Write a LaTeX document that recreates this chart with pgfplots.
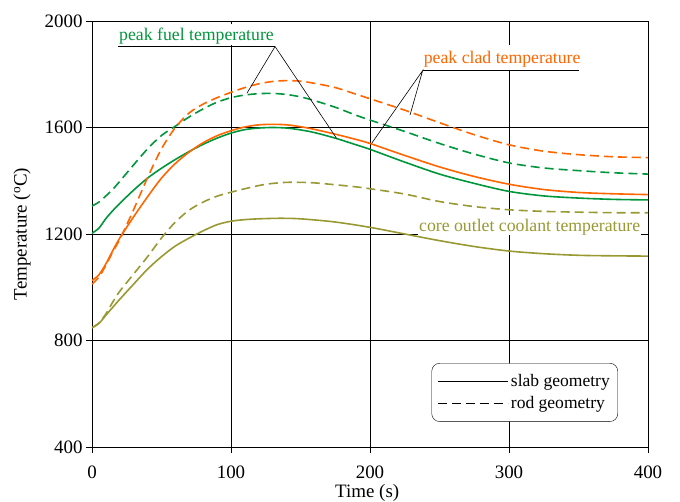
\documentclass[border=0pt]{standalone}
\usepackage{pgfplots}
\pgfplotsset{compat=1.18}
\usepackage{fontspec}
\setmainfont{Liberation Serif}
\definecolor{cgreen}{RGB}{0,150,60}
\definecolor{corange}{RGB}{255,102,0}
\definecolor{colive}{RGB}{153,153,51}
\begin{document}
\begin{tikzpicture}
\path[use as bounding box] (-92bp,-55bp) rectangle (588bp,447bp);
\begin{axis}[
  at={(0,0)}, anchor=south west,
  scale only axis, width=556bp, height=426bp,
  xmin=0, xmax=400, ymin=400, ymax=2000,
  xtick={0,100,200,300,400}, ytick={400,800,1200,1600,2000},
  /pgf/number format/assume math mode=true,
  /pgf/number format/1000 sep={},
  tick label style={font=\fontsize{19}{22}\selectfont},
  xticklabel style={yshift=-9bp},
  label style={font=\fontsize{19}{22}\selectfont},
  tick align=outside, major tick length=6bp,
  xtick pos=bottom, ytick pos=left,
  tick style={black, line width=0.8bp},
  grid=major, major grid style={black, line width=0.8bp},
  axis line style={black, line width=0.8bp},
  xlabel={Time (s)}, ylabel={Temperature (\textsuperscript{o}C)},
  xlabel style={at={(axis description cs:0.495,-0.118)}, anchor=base},
  ylabel style={at={(axis description cs:-0.1259,0.5)}, anchor=center},
  legend style={at={(rel axis cs:0.946,0.197)}, anchor=north east, draw=black,
    rounded corners=8bp, fill=white, font=\fontsize{17.6}{20}\selectfont,
    inner xsep=6bp, inner ysep=9.5bp, row sep=4bp},
  legend cell align=left,
  legend image code/.code={\draw[#1] (0bp,0bp) -- (70bp,0bp);},
  every axis plot/.append style={line width=1.6bp},
  rod/.style={dash pattern=on 9bp off 5bp},
]
% slab fuel
\addplot[cgreen, smooth, forget plot] coordinates {
(0,1203)(5,1222)(10,1258)(15,1288)(20,1315)(30,1365)(40,1410)(50,1447)(60,1480)(70,1510)(80,1537)(90,1560)(100,1579)(110,1592)(120,1598)(130,1600)(140,1598)(150,1591)(160,1581)(175,1560)(190,1535)(200,1518)(225,1470)(250,1425)(275,1390)(300,1360)(325,1343)(350,1335)(375,1330)(400,1328)};
% slab clad
\addplot[corange, smooth, forget plot] coordinates {
(0,1025)(5,1047)(10,1088)(15,1138)(20,1185)(30,1265)(40,1340)(50,1410)(60,1465)(70,1508)(80,1543)(90,1569)(100,1588)(110,1602)(120,1610)(130,1612)(140,1610)(150,1603)(160,1593)(175,1575)(190,1555)(200,1540)(225,1495)(250,1452)(275,1416)(300,1387)(325,1367)(350,1356)(375,1351)(400,1348)};
% rod fuel
\addplot[cgreen, rod, smooth, forget plot] coordinates {
(0,1305)(5,1320)(10,1343)(15,1368)(20,1398)(30,1460)(40,1520)(50,1570)(60,1605)(70,1640)(80,1670)(90,1695)(100,1712)(110,1722)(120,1727)(130,1728)(140,1724)(150,1715)(160,1701)(175,1676)(190,1646)(200,1628)(225,1585)(250,1540)(275,1500)(300,1467)(325,1448)(350,1438)(375,1430)(400,1425)};
% rod clad
\addplot[corange, rod, smooth, forget plot] coordinates {
(0,1012)(5,1038)(10,1083)(15,1133)(20,1180)(25,1235)(30,1292)(40,1412)(50,1520)(60,1600)(70,1655)(80,1688)(90,1712)(100,1732)(110,1750)(120,1764)(130,1773)(140,1776)(150,1774)(160,1766)(175,1750)(190,1725)(200,1708)(225,1665)(250,1618)(275,1573)(300,1535)(325,1511)(350,1498)(375,1490)(400,1487)};
% slab coolant
\addplot[colive, smooth, forget plot] coordinates {
(0,848)(5,864)(10,895)(15,925)(20,955)(30,1012)(40,1068)(50,1115)(60,1155)(70,1185)(80,1212)(90,1235)(100,1248)(110,1254)(120,1257)(135,1259)(150,1257)(175,1245)(200,1225)(225,1200)(250,1175)(275,1153)(300,1136)(325,1126)(350,1120)(375,1118)(400,1117)};
% rod coolant
\addplot[colive, rod, smooth, forget plot] coordinates {
(0,848)(5,866)(10,900)(15,945)(20,985)(30,1050)(40,1115)(50,1185)(60,1245)(70,1290)(80,1320)(90,1342)(100,1357)(110,1370)(120,1382)(130,1390)(140,1394)(150,1394)(160,1392)(175,1385)(190,1377)(200,1370)(225,1350)(250,1322)(275,1303)(300,1291)(325,1285)(350,1282)(375,1280)(400,1280)};
\addlegendimage{black, solid, line width=1.2bp}
\addlegendentry{slab geometry}
\addlegendimage{black, rod, line width=1.2bp}
\addlegendentry{rod geometry}
% annotations
\node[anchor=base west, fill=white, text=cgreen, font=\fontsize{17.8}{20}\selectfont,
  inner xsep=1bp, inner ysep=0pt, text height=16bp, text depth=5bp] at (axis cs:18.7,1928.6) {peak fuel temperature};
\draw[black, line width=0.6bp] (axis cs:18.7,1904) -- (axis cs:131.7,1904);
\draw[black, line width=0.6bp] (axis cs:111.5,1729) -- (axis cs:131.7,1904) -- (axis cs:176,1559);
\node[anchor=base west, fill=white, text=corange, font=\fontsize{17.8}{20}\selectfont,
  inner xsep=1bp, inner ysep=0pt, text height=18bp, text depth=7bp] at (axis cs:237.9,1842) {peak clad temperature};
\draw[black, line width=0.6bp] (axis cs:237.9,1814) -- (axis cs:350.6,1814);
\draw[black, line width=0.6bp] (axis cs:228.8,1647) -- (axis cs:237.9,1814) -- (axis cs:201.2,1540.7);
\node[anchor=base west, fill=white, text=colive, font=\fontsize{17.8}{20}\selectfont,
  inner xsep=1bp, inner ysep=0pt, text height=17bp, text depth=3bp] at (axis cs:234.5,1208.6) {core outlet coolant temperature};
\end{axis}
\end{tikzpicture}
\end{document}
